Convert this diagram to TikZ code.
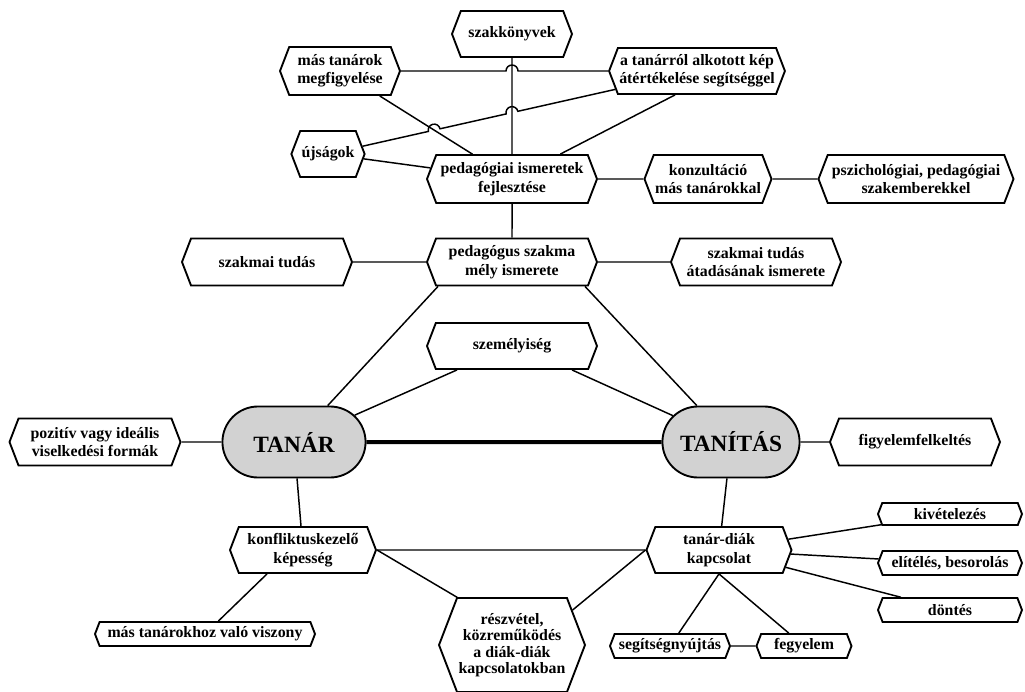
\documentclass[tikz,border=0pt]{standalone}
\usepackage{fontspec}
\setmainfont{Liberation Serif}
\usetikzlibrary{shapes.symbols}
\usetikzlibrary{shapes.misc}
\usetikzlibrary{intersections}
\usetikzlibrary{calc}

\definecolor{tanargray}{RGB}{210,210,210}

\begin{document}
\begin{tikzpicture}[x=0.75pt,y=0.75pt,yscale=-1,xscale=1,
  hexa/.style={draw, line width=1.4pt, signal, signal to=east and west, signal pointer angle=138,
    align=center, inner sep=1pt, font=\bfseries\fontsize{11.9}{13.8}\selectfont},
  fonode/.style={draw, line width=1.4pt, rounded rectangle, fill=tanargray,
    minimum width=114pt, minimum height=53.25pt, font=\bfseries\fontsize{17.5}{21}\selectfont},
  conn/.style={line width=1.1pt},
  mainconn/.style={line width=3pt}]
\useasboundingbox (0,0) rectangle (1025,692);

%Top group
\node[hexa, minimum width=90pt, minimum height=34.5pt] (szak) at (512,34) {szakkönyvek};
\node[hexa, minimum width=90pt, minimum height=36pt] (mastan) at (340,71) {más tanárok\\megfigyelése};
\node[hexa, minimum width=113.25pt, minimum height=34.5pt] (kep) at (697,71) {a tanárról alkotott kép\\átértékelése segítséggel};
\node[hexa, minimum width=54pt, minimum height=34.5pt] (ujs) at (328,154) {újságok};
\node[hexa, minimum width=127.5pt, minimum height=36pt] (pedism) at (512,179) {pedagógiai ismeretek\\fejlesztése};
\node[hexa, minimum width=91.5pt, minimum height=36pt] (konz) at (708,179) {konzultáció\\más tanárokkal};
\node[hexa, minimum width=146.25pt, minimum height=36pt] (pszich) at (916,179) {pszichológiai, pedagógiai\\szakemberekkel};

%Middle row
\node[hexa, minimum width=127.5pt, minimum height=35.25pt] (sztud) at (267,262) {szakmai tudás};
\node[hexa, minimum width=127.5pt, minimum height=35.25pt] (pedsz) at (512,262) {pedagógus szakma\\mély ismerete};
\node[hexa, minimum width=127.5pt, minimum height=35.25pt] (atad) at (756,262) {szakmai tudás\\átadásának ismerete};
\node[hexa, minimum width=127.5pt, minimum height=34.5pt] (szem) at (512,346) {személyiség};

%Main nodes
\node[fonode] (tanar) at (294,442) {TANÁR};
\node[fonode, minimum width=109.5pt] (tanitas) at (731,442) {TANÍTÁS};
\node[hexa, minimum width=128.25pt, minimum height=35.25pt] (pozit) at (95,442) {pozitív vagy ideális\\viselkedési formák};
\node[hexa, minimum width=127.5pt, minimum height=35.25pt] (figy) at (915,442) {figyelemfelkeltés};

%Bottom group
\node[hexa, minimum width=109.5pt, minimum height=34.5pt] (konfl) at (303,550) {konfliktuskezelő\\képesség};
\node[hexa, minimum width=165pt, minimum height=18pt] (masviszony) at (205,634) {más tanárokhoz való viszony};
\node[hexa, minimum width=109.5pt, minimum height=70.5pt, font=\bfseries\fontsize{11.9}{12.3}\selectfont] (reszvetel) at (512,645) {részvétel,\\közreműködés\\a diák-diák\\kapcsolatokban};
\node[hexa, minimum width=108.75pt, minimum height=34.5pt] (tandiak) at (719,550) {tanár-diák\\kapcsolat};
\node[hexa, minimum width=108pt, minimum height=16.5pt] (kivet) at (950,514) {kivételezés};
\node[hexa, minimum width=108pt, minimum height=18pt] (elit) at (950,563) {elítélés, besorolás};
\node[hexa, minimum width=108pt, minimum height=18pt] (dontes) at (950,610) {döntés};
\node[hexa, minimum width=90pt, minimum height=18pt] (segit) at (670,646) {segítségnyújtás};
\node[hexa, minimum width=71.25pt, minimum height=18pt] (fegy) at (804,646) {fegyelem};

%Connectors, top
\draw[conn, name path=vline] (szak) -- (pedism);
\draw[conn, name path=mpline] (mastan) -- (pedism);
\coordinate (hopH) at (szak.south |- mastan.east);
\draw[conn] (mastan) -- ([xshift=-4.5pt]hopH) arc[start angle=180, end angle=360, radius=4.5pt] -- (kep);
\path[name path=ukline] (ujs) -- (kep);
\path[name intersections={of=ukline and mpline, by=hopA}];
\path[name intersections={of=ukline and vline, by=hopB}];
\draw[conn] (ujs) -- ($(hopA)!4.5pt!(ujs)$) arc[start angle=167.3, end angle=347.3, radius=4.5pt]
  -- ($(hopB)!4.5pt!(ujs)$) arc[start angle=167.3, end angle=347.3, radius=4.5pt] -- (kep);
\draw[conn] (ujs) -- (pedism);
\draw[conn] ([xshift=-16.5pt]kep.south) -- (pedism);
\draw[conn] (pedism) -- (konz);
\draw[conn] (konz) -- (pszich);
\draw[conn] (pedism) -- (pedsz);

%Connectors, middle
\draw[conn] (sztud) -- (pedsz);
\draw[conn] (pedsz) -- (atad);
\draw[conn] ([xshift=-55.5pt]pedsz.south) -- (tanar);
\draw[conn] ([xshift=54.75pt]pedsz.south) -- (tanitas);
\draw[conn] ([xshift=-41.25pt]szem.south) -- (tanar);
\draw[conn] ([xshift=45pt]szem.south) -- (tanitas);
\draw[mainconn] (tanar) -- (tanitas);
\draw[conn] (pozit) -- (tanar);
\draw[conn] (tanitas) -- (figy);

%Connectors, bottom
\draw[conn] (tanar) -- (konfl);
\draw[conn] (tanitas) -- (tandiak);
\draw[conn] (konfl) -- (tandiak);
\draw[conn] (konfl.east) -- (reszvetel.139);
\draw[conn] (tandiak.west) -- (reszvetel.30);
\draw[conn] ([xshift=-27pt]konfl.south) -- (masviszony);
\draw[conn] (tandiak) -- (kivet);
\draw[conn] (tandiak) -- (elit);
\draw[conn] (tandiak) -- (dontes);
\draw[conn] (tandiak.south) -- (segit);
\draw[conn] (tandiak.south) -- (fegy);
\draw[conn] (segit) -- (fegy);

\end{tikzpicture}
\end{document}
